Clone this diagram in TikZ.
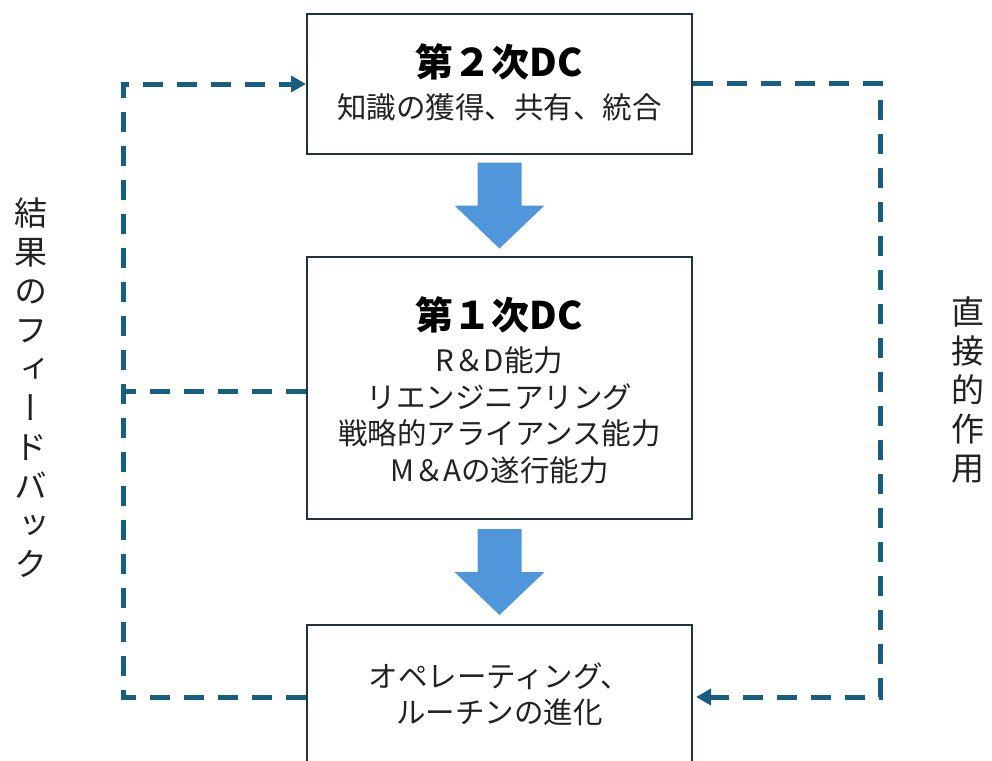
\documentclass[tikz,border=0pt]{standalone}
\usepackage{fontspec}
\usepackage{graphicx}
\usetikzlibrary{arrows.meta,calc}
\newfontfamily\jp{Noto Sans CJK JP}
\newfontfamily\jpv{Noto Sans CJK JP}[RawFeature=+vert]
\definecolor{boxline}{RGB}{30,50,64}
\definecolor{fbcol}{RGB}{23,94,128}
\definecolor{blkcol}{RGB}{80,150,218}
\definecolor{txtcol}{RGB}{34,34,34}
\tikzset{
  pics/downarrow/.style={code={
    \fill[blkcol] (-22,-43) -- (22,-43) -- (22,0) -- (45,0) -- (0,43) -- (-45,0) -- (-22,0) -- cycle;
  }}
}
\begin{document}
\begin{tikzpicture}[x=1pt,y=-1pt,
  box/.style={draw=boxline,line width=2pt,fill=white,minimum width=385pt,inner sep=0pt},
  ttl/.style={font=\jp\bfseries\fontsize{38}{42}\selectfont,text=black,inner sep=0pt},
  body/.style={font=\jp\fontsize{29.5}{36}\selectfont,text=txtcol,inner sep=0pt},
  vlab/.style={font=\jpv\fontsize{33}{39}\selectfont,text=txtcol,align=center,inner sep=0pt},
  fbline/.style={draw=fbcol,line width=5pt,dash pattern=on 20pt off 14pt},
  fbarrow/.style={fbline,-{Triangle[length=15pt,width=16pt]}}]
\useasboundingbox (0,0) rectangle (992,760);
\clip (0,0) rectangle (992,760);

% feedback corners
\coordinate (cLB) at (123,697);
\coordinate (cLT) at (123,84);
\coordinate (cLM) at (123,391);
\coordinate (cRT) at (880,83);
\coordinate (cRB) at (880,697);

% boxes
\node[box,minimum height=140pt] (b2) at (499.5,84) {};
\node[box,minimum height=262pt] (b1) at (499.5,388) {};
\node[box,minimum height=170pt] (b0) at (499.5,710) {};

% texts
\node[ttl] (t2a) at (499.5,62) {第２次DC};
\node[body] (t2b) at (499.5,107) {知識の獲得、共有、統合};

\node[ttl] (t1a) at (499.5,315) {第１次DC};
\node[body] (t1b) at (499.5,360) {R＆D能力};
\node[body] (t1c) at (499.5,397) {リエンジニアリング};
\node[body] (t1d) at (499.5,433) {戦略的アライアンス能力};
\node[body] (t1e) at (499.5,470) {M＆Aの遂行能力};

\node[body] (t0a) at (499.5,676) {オペレーティング、};
\node[body] (t0b) at (499.5,712) {ルーチンの進化};

% block arrows
\pic at ($(b2.south)!0.5!(b1.north)$) {downarrow};
\pic at ($(b1.south)!0.5!(b0.north)$) {downarrow};

% feedback lines
\draw[fbarrow] (b0.west |- cLB) -- (cLB) -- (cLT) -- (b2.west |- cLT);
\draw[fbline] (b1.west |- cLM) -- (cLM);
\draw[fbarrow] (b2.east |- cRT) -- (cRT) -- (cRB) -- ($(b0.east |- cRB)+(3,0)$);

% side labels
\node[vlab] (vl) at (31,388) {結\\果\\の\\フ\\ィ\\ー\\ド\\バ\\ッ\\ク};
\node[vlab] (vr) at (968,390) {直\\接\\的\\作\\用};
\end{tikzpicture}
\end{document}
